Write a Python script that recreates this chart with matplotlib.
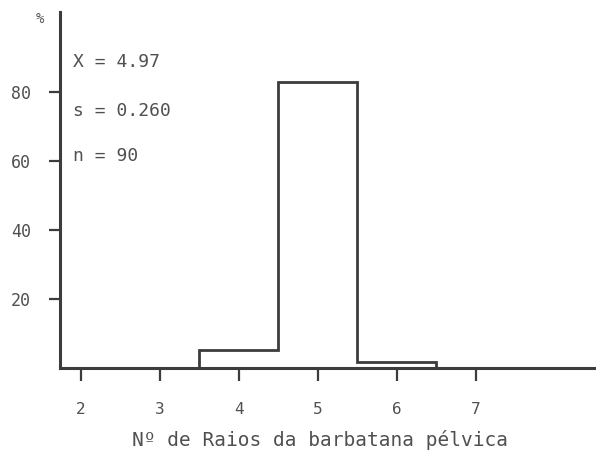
import matplotlib.pyplot as plt

# frequency (%) of pelvic fin ray counts
edges = [3.5, 4.5, 5.5, 6.5]
freq = [5.2, 83.0, 1.7]

xticks = [2, 3, 4, 5, 6, 7]
yticks = [20, 40, 60, 80]
stats = ['X = 4.97', 's = 0.260', 'n = 90']

ink = '#3c3c3c'
txt = '#505050'
plt.rcParams['font.family'] = 'DejaVu Sans Mono'

fig = plt.figure(figsize=(5.96, 4.59), dpi=100)
ax = fig.add_axes([60/596, (459-368)/459, 536/596, 356/459])

ax.stairs(freq, edges, color=ink, linewidth=2.0)

ax.set_xlim(1.734, 8.52)
ax.set_ylim(0, 103.2)

for side in ['top', 'right']:
    ax.spines[side].set_visible(False)
for side in ['left', 'bottom']:
    ax.spines[side].set_color(ink)
    ax.spines[side].set_linewidth(2.2)

ax.set_xticks(xticks)
ax.set_yticks(yticks)
ax.tick_params(axis='x', direction='out', length=9, width=1.6, color=ink,
               pad=15.5, labelsize=11.5, labelcolor=txt)
ax.tick_params(axis='y', direction='out', length=8, width=1.6, color=ink,
               pad=13, labelsize=12, labelcolor=txt)

ax.text(-0.037, 0.98, '%', transform=ax.transAxes, fontsize=10,
        color=txt, ha='center', va='center')

ys = [0.86, 0.722, 0.595]
for s, y in zip(stats, ys):
    ax.text(0.025, y, s, transform=ax.transAxes, fontsize=13,
            color=txt, ha='left', va='center')

fig.text(320/596, 1 - 440/459, 'Nº de Raios da barbatana pélvica',
         fontsize=14, color=txt, ha='center', va='center')

fig.savefig('out.png', dpi=100)
